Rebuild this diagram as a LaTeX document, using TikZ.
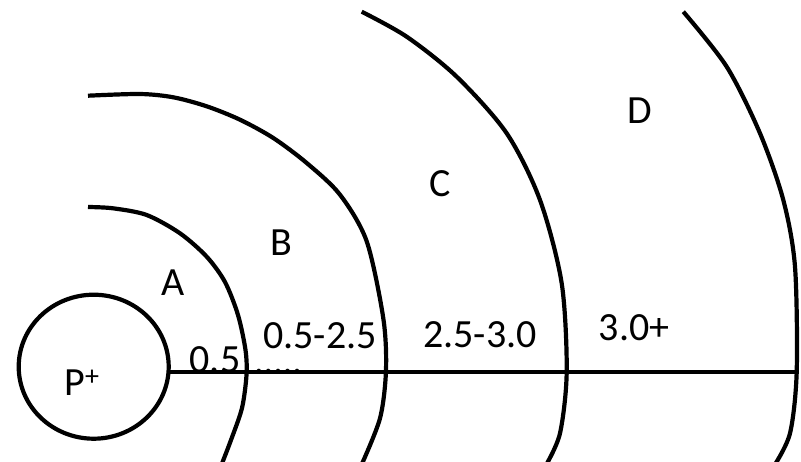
\documentclass[tikz,border=0pt]{standalone}
\usepackage{fontspec}
\setmainfont{Carlito}
\usetikzlibrary{shapes.geometric}
\begin{document}
\begin{tikzpicture}[x=1pt,y=-1pt,line width=4.2pt,
  lbl/.style={anchor=base,inner sep=0pt,font=\fontsize{40}{40}\selectfont},
  shell/.style={line width=4.2pt}]
\useasboundingbox (0,0) rectangle (801,461);
\clip (0,0) rectangle (801,461);
% labels (drawn first so lines lie on top)
\node[lbl] (la) at (173.5,295) {A};
\node[lbl] (lb) at (281,255) {B};
\node[lbl] (lc) at (440,196) {C};
\node[lbl] (ld) at (640,123) {D};
\node[lbl] (r1) at (215,372) {0.5};
\node[lbl,anchor=base west,font=\fontsize{38}{38}\selectfont,text height=3pt,text depth=0pt] (dots) at (252,373.5) {.....};
\node[lbl] (r2) at (320,348) {0.5-2.5};
\node[lbl] (r3) at (480,347) {2.5-3.0};
\node[lbl] (r4) at (634,340) {3.0+};
\node[lbl] (pl) at (82,395) {P\textsuperscript{+}};
% nucleus
\node[draw,ellipse,line width=4.2pt,minimum width=150pt,minimum height=144pt,inner sep=0pt,outer sep=0pt] (p) at (93.7,366.7) {};
\coordinate (lend) at (799,372);
\draw (p.east |- lend) -- (lend);
% shells
\draw[shell] plot[smooth,tension=0.5] coordinates {(88,207) (113,208.3) (146.7,215) (180,233.3) (206.7,256.7) (225,282) (238,315) (245.5,350) (246.5,375) (242,408) (231,440) (221,466)};
\draw[shell] plot[smooth,tension=0.5] coordinates {(88,95.7) (140,94) (173.3,97.3) (206.7,106.3) (240,119.7) (273.3,138) (306.7,163) (340,194.7) (366.7,241.3) (383.3,318.3) (386,370) (380,418.3) (361,466)};
\draw[shell] plot[smooth,tension=0.5] coordinates {(361.7,11.7) (406.7,36.7) (456.7,76.7) (506.7,133.3) (540,200) (561.7,283.3) (566.7,371.7) (560,433.3) (545.5,466)};
\draw[shell] plot[smooth,tension=0.5] coordinates {(683.3,11.7) (726.7,66.7) (760,133.3) (783.3,200) (795,266.7) (796.7,371.7) (790,433.3) (774,466)};
\end{tikzpicture}
\end{document}
